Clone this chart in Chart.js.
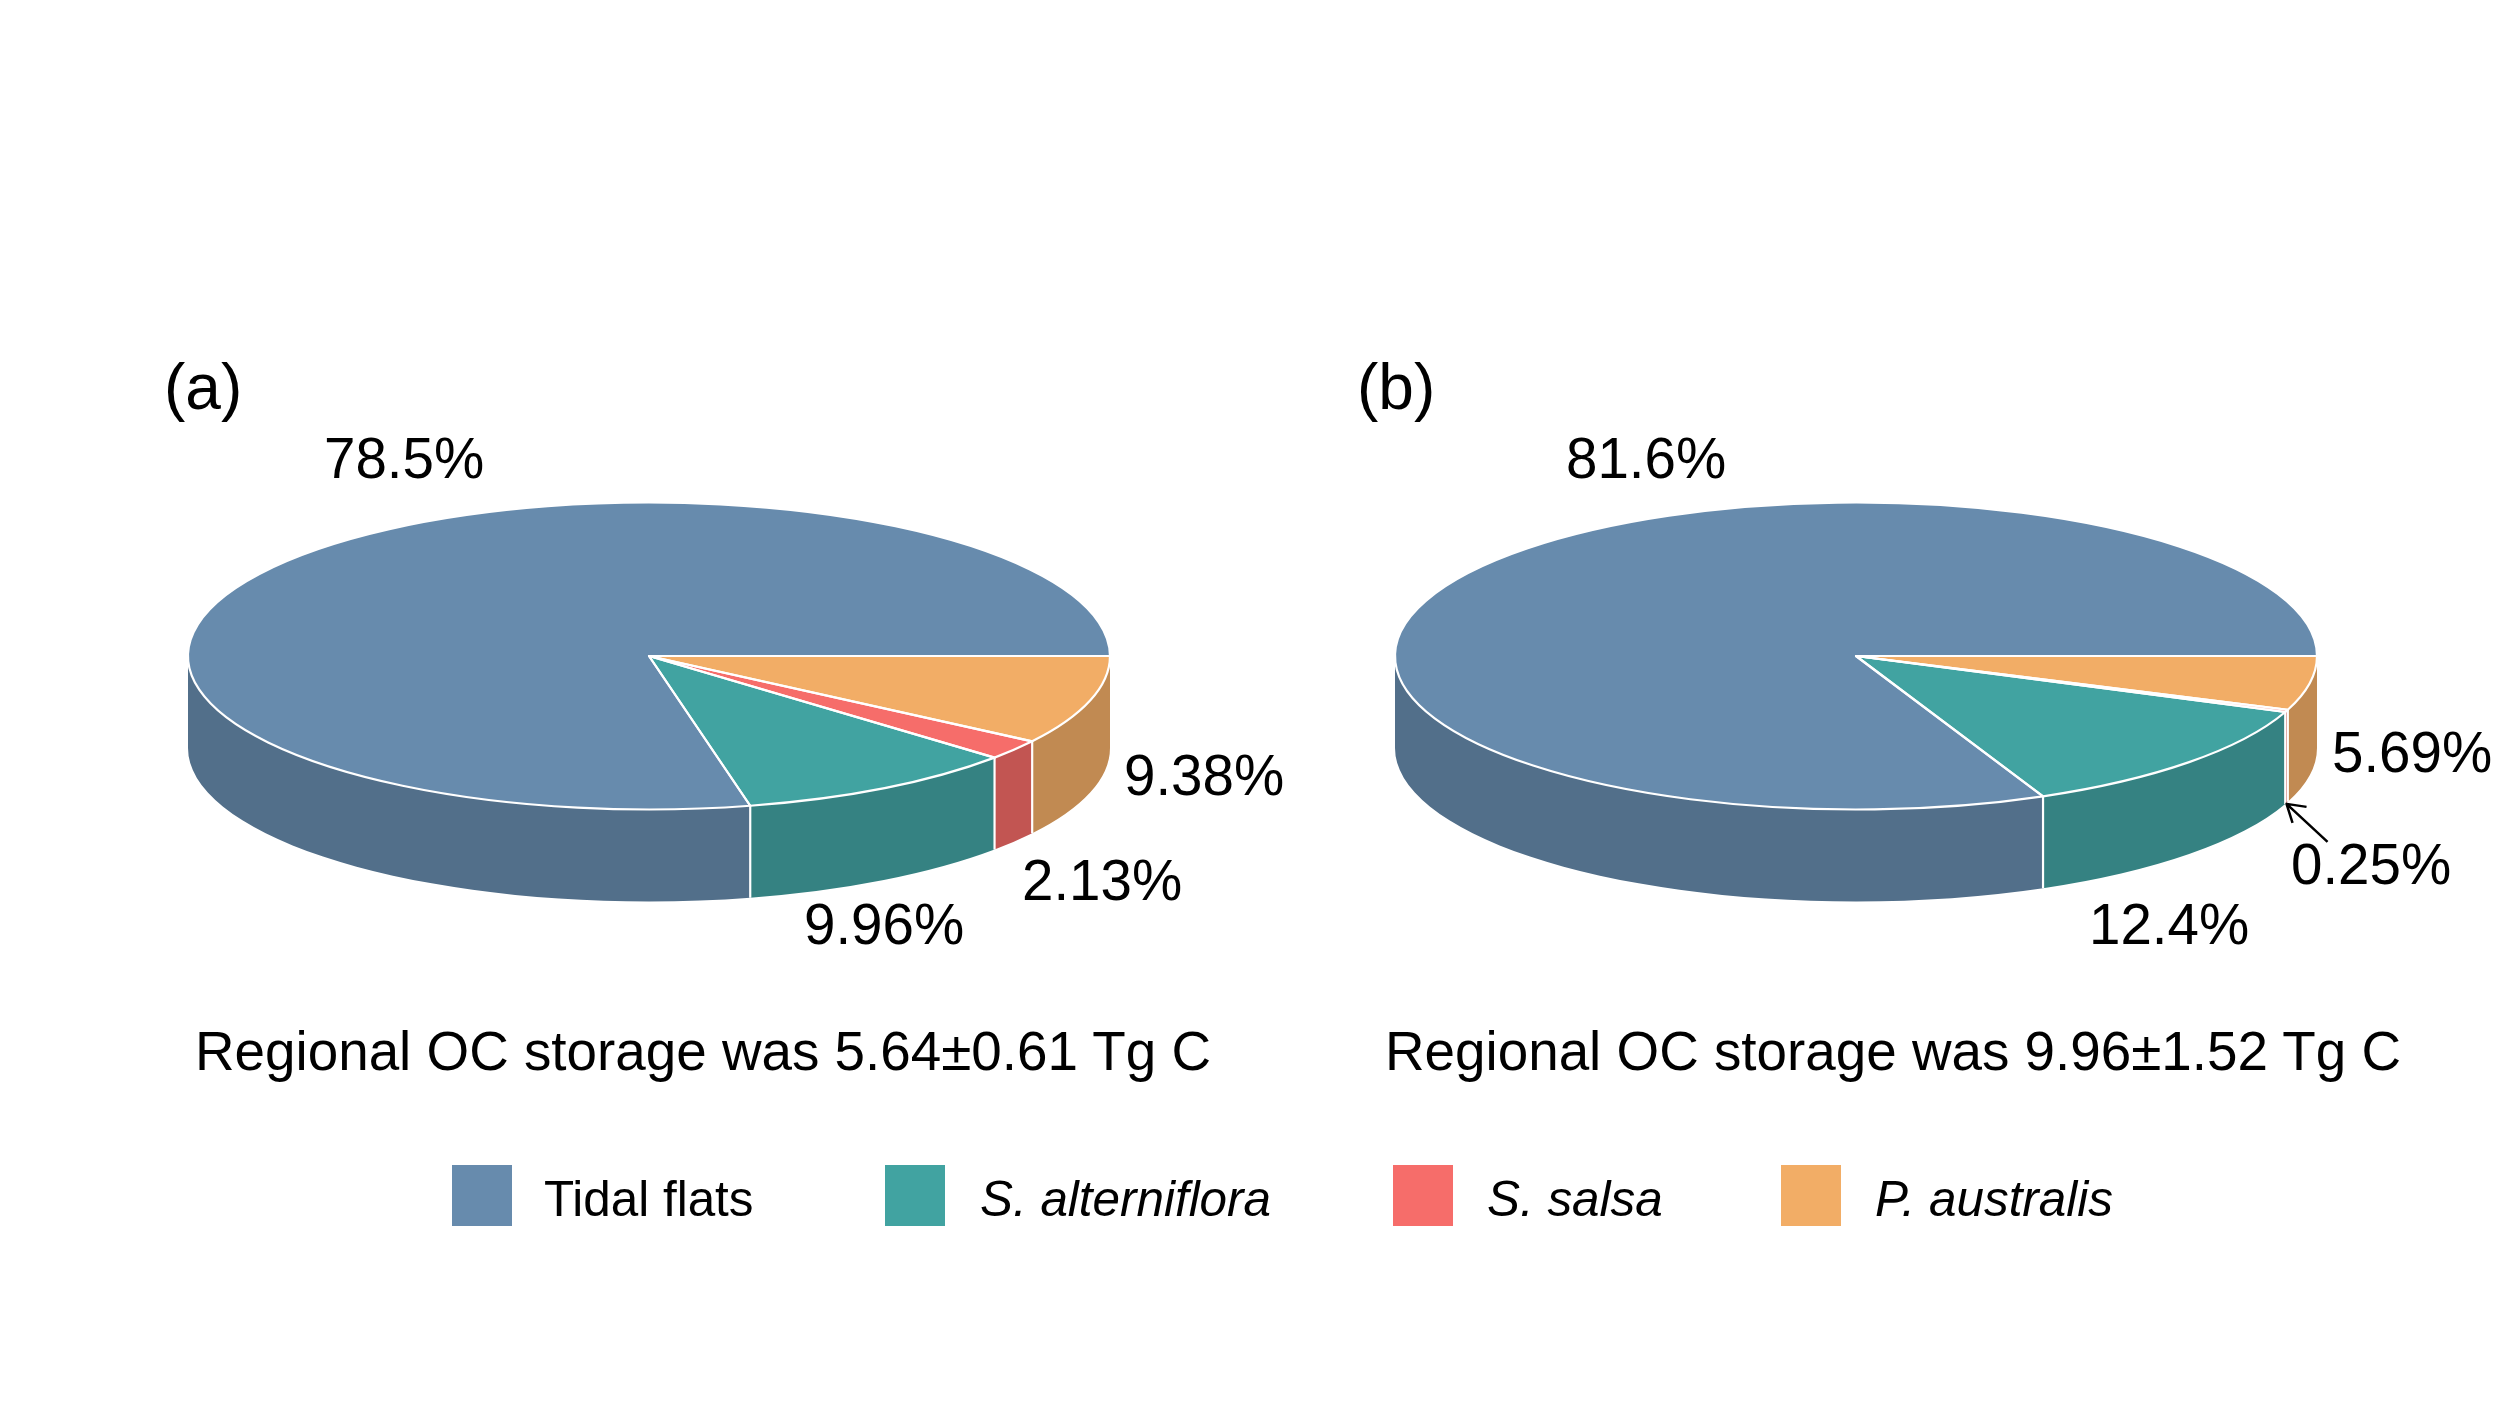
<!DOCTYPE html>
<html>
<head>
<meta charset="utf-8">
<script src="https://cdn.jsdelivr.net/npm/chart.js@4"></script>
<style>
    html, body { margin: 0; padding: 0; background: #fff; }
    #page { position: relative; width: 2500px; height: 1406px; overflow: hidden; font-family: "Liberation Sans", Arial, sans-serif; color: #000; }
    #page canvas { position: absolute; }
    .txt { position: absolute; white-space: nowrap; }
    .swatch { position: absolute; }
</style>
</head>
<body>
<div id="page">
    <canvas id="pieA" width="1000" height="1000" style="left:149px;top:156px;width:1000px;height:1000px"></canvas>
    <canvas id="pieB" width="1000" height="1000" style="left:1356px;top:156px;width:1000px;height:1000px"></canvas>
</div>
<script>
// datos, mismo orden que la leyenda
var categories = ['Tidal flats', 'S. alterniflora', 'S. salsa', 'P. australis'];
var valuesA = [78.5, 9.96, 2.13, 9.38];
var valuesB = [81.6, 12.4, 0.25, 5.69];
var captionA = 'Regional OC storage was 5.64\u00B10.61 Tg C';
var captionB = 'Regional OC storage was 9.96\u00B11.52 Tg C';

var topColors = ['#678BAD', '#41A3A1', '#F66D6A', '#F2AD66'];
var sideColors = ['#526F8A', '#358282', '#C25552', '#C18A52'];

// medidas del pastel en pixeles
var radiusX = 461;
var radiusY = 153.5;
var depth = 92;
var edgeWidth = 2.2;

// tapa elíptica con pared lateral: se aplasta el contexto mientras dibuja Chart.js
var pie3d = {
    id: 'pie3d',
    beforeDatasetsDraw: function (chart) {
        var ctx = chart.ctx;
        var arcs = chart.getDatasetMeta(0).data;
        var sides = chart.options.plugins.pie3d.sides;
        arcs.forEach(function (arc, i) {
            var a0 = Math.max(arc.startAngle, 0);
            var a1 = Math.min(arc.endAngle, Math.PI);
            if (a1 <= a0) return;
            ctx.beginPath();
            ctx.ellipse(arc.x, arc.y, radiusX, radiusY, 0, a0, a1);
            ctx.ellipse(arc.x, arc.y + depth, radiusX, radiusY, 0, a1, a0, true);
            ctx.closePath();
            ctx.fillStyle = sides[i];
            ctx.fill();
        });
        // separadores verticales
        ctx.strokeStyle = '#fff';
        ctx.lineWidth = edgeWidth;
        arcs.forEach(function (arc) {
            var a = arc.startAngle;
            if (a <= 0.001 || a >= Math.PI) return;
            var x = arc.x + radiusX * Math.cos(a);
            var y = arc.y + radiusY * Math.sin(a);
            ctx.beginPath();
            ctx.moveTo(x, y);
            ctx.lineTo(x, y + depth);
            ctx.stroke();
        });
        ctx.save();
        var c = arcs[0];
        ctx.translate(c.x, c.y);
        ctx.scale(1, radiusY / radiusX);
        ctx.translate(-c.x, -c.y);
    },
    afterDatasetsDraw: function (chart) {
        var ctx = chart.ctx;
        ctx.restore();
        var arcs = chart.getDatasetMeta(0).data;
        ctx.strokeStyle = '#fff';
        ctx.lineWidth = edgeWidth;
        ctx.lineJoin = 'round';
        arcs.forEach(function (arc) {
            ctx.save();
            ctx.translate(arc.x, arc.y);
            ctx.scale(1, radiusY / radiusX);
            ctx.beginPath();
            ctx.moveTo(0, 0);
            ctx.arc(0, 0, radiusX, arc.startAngle, arc.endAngle);
            ctx.closePath();
            ctx.restore();
            ctx.stroke();
        });
        // flecha hacia la rebanada muy pequeña
        var arrowTo = chart.options.plugins.pie3d.arrowTo;
        if (arrowTo >= 0) {
            var s = arcs[arrowTo];
            var mid = (s.startAngle + s.endAngle) / 2;
            var tx = s.x + radiusX * Math.cos(mid);
            var ty = s.y + radiusY * Math.sin(mid) + depth + 1;
            ctx.strokeStyle = '#000';
            ctx.lineWidth = 2.5;
            ctx.beginPath();
            ctx.moveTo(tx + 41, ty + 38);
            ctx.lineTo(tx, ty);
            ctx.moveTo(tx + 20, ty + 3);
            ctx.lineTo(tx, ty);
            ctx.lineTo(tx + 6, ty + 19);
            ctx.stroke();
        }
    }
};

function drawPie(id, values, arrowTo) {
    // la rebanada naranja va primero, a las 3 en punto
    return new Chart(document.getElementById(id).getContext('2d'), {
        type: 'pie',
        data: {
            labels: categories.slice().reverse(),
            datasets: [{
                data: values.slice().reverse(),
                backgroundColor: topColors.slice().reverse(),
                borderWidth: 0
            }]
        },
        options: {
            responsive: false,
            animation: false,
            rotation: 90,
            radius: radiusX,
            events: [],
            plugins: {
                legend: { display: false },
                tooltip: { enabled: false },
                pie3d: { sides: sideColors.slice().reverse(), arrowTo: arrowTo }
            }
        },
        plugins: [pie3d]
    });
}

drawPie('pieA', valuesA, -1);
drawPie('pieB', valuesB, 1);

// textos
var page = document.getElementById('page');
function addText(str, x, baseline, size, italic) {
    var d = document.createElement('div');
    d.className = 'txt';
    d.textContent = str;
    d.style.left = x + 'px';
    d.style.top = (baseline - size * 0.905) + 'px';
    d.style.fontSize = size + 'px';
    if (italic) d.style.fontStyle = 'italic';
    page.appendChild(d);
}

addText('(a)', 164, 408, 64);
addText('(b)', 1357, 408, 64);

addText(valuesA[0] + '%', 324, 477, 56.5);
addText(valuesA[1] + '%', 804, 943, 56.5);
addText(valuesA[2] + '%', 1022, 899, 56.5);
addText(valuesA[3] + '%', 1124, 794, 56.5);

addText(valuesB[0] + '%', 1566, 477, 56.5);
addText(valuesB[1] + '%', 2089, 943, 56.5);
addText(valuesB[2] + '%', 2291, 883, 56.5);
addText(valuesB[3] + '%', 2332, 771, 56.5);

addText(captionA, 195, 1069, 54.8);
addText(captionB, 1385, 1069, 54.8);

// leyenda
var swatchX = [452, 885, 1393, 1781];
var legendTextX = [544, 980, 1487, 1875];
categories.forEach(function (name, i) {
    var s = document.createElement('div');
    s.className = 'swatch';
    s.style.cssText = 'left:' + swatchX[i] + 'px;top:1165px;width:60px;height:61px;background:' + topColors[i];
    page.appendChild(s);
    addText(name, legendTextX[i], 1215, 49.4, i > 0);
});
</script>
</body>
</html>
